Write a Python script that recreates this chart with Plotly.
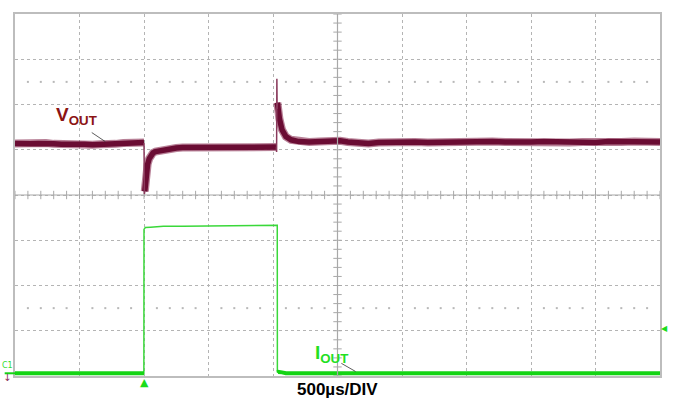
import plotly.graph_objects as go

# Time base: 500 us/div, 10 divisions. Vertical values in screen divisions (center = 0).
time_per_div = 500
n_hdiv = 10
n_vdiv = 8

# V_OUT thick trace segments (us, div)
vout_pre_t = [0, 60, 120, 180, 240, 300, 360, 420, 480, 540, 600, 660, 720, 780,
              840, 900, 960, 1000]
vout_pre_v = [1.14, 1.15, 1.13, 1.14, 1.15, 1.13, 1.12, 1.13, 1.14, 1.12, 1.11, 1.12,
              1.11, 1.13, 1.15, 1.17, 1.17, 1.16]

vout_mid_t = [1006, 1010, 1018, 1028, 1040, 1055, 1070, 1090, 1120, 1160, 1200, 1250,
              1300, 1380, 1460, 1540, 1620, 1700, 1780, 1860, 1940, 2000, 2026]
vout_mid_v = [0.08, 0.25, 0.50, 0.68, 0.80, 0.88, 0.93, 0.96, 0.98, 1.01, 1.03, 1.04,
              1.05, 1.05, 1.06, 1.07, 1.06, 1.06, 1.07, 1.06, 1.07, 1.06, 1.06]

vout_post_t = [2034, 2040, 2050, 2070, 2100, 2140, 2200, 2280, 2360, 2420, 2480, 2520,
               2580, 2660, 2740, 2820, 2900, 3000, 3100, 3200, 3300, 3400, 3500, 3600,
               3700, 3800, 3900, 4000, 4100, 4200, 4300, 4400, 4500, 4600, 4700, 4800,
               4900, 5000]
vout_post_v = [2.04, 1.85, 1.68, 1.44, 1.29, 1.22, 1.18, 1.17, 1.18, 1.19, 1.22, 1.20,
               1.17, 1.15, 1.14, 1.16, 1.17, 1.18, 1.17, 1.16, 1.17, 1.18, 1.16, 1.17,
               1.18, 1.17, 1.16, 1.17, 1.18, 1.17, 1.16, 1.17, 1.16, 1.18, 1.17, 1.18,
               1.17, 1.17]

# V_OUT fast edges (thin)
vout_dip_t = [1000, 1003, 1006]
vout_dip_v = [1.15, 0.02, 0.08]
vout_spike_t = [2026, 2028, 2030, 2032, 2034]
vout_spike_v = [1.06, 0.95, 2.57, 1.90, 2.04]

# I_OUT load step (us, div)
iout_t = [0, 300, 600, 900, 999, 1000, 1003, 1010, 1050, 1150, 1300, 1500, 1700, 1900,
          2033, 2034, 2040, 2070, 2100, 2500, 3000, 3500, 4000, 4500, 5000]
iout_v = [-3.94, -3.94, -3.94, -3.94, -3.94, -0.76, -0.75, -0.72, -0.71, -0.69, -0.69,
          -0.68, -0.675, -0.67, -0.67, -3.92, -3.91, -3.92, -3.94, -3.94, -3.94, -3.94,
          -3.94, -3.94, -3.94]
iout_low1_t = [0, 300, 600, 900, 1000]
iout_low1_v = [-3.94, -3.94, -3.94, -3.94, -3.94]
iout_low2_t = [2034, 2040, 2070, 2100, 2500, 3000, 3500, 4000, 4500, 5000]
iout_low2_v = [-3.92, -3.91, -3.92, -3.94, -3.94, -3.94, -3.94, -3.94, -3.94, -3.94]

trigger_time = 1000
trigger_level = -2.95

VOUT_COL = "#6a0c33"
VOUT_FRINGE = "rgba(125,25,65,0.55)"
IOUT_COL = "#14d414"
GRID_COL = "#b4b4b4"

t_max = time_per_div * n_hdiv
t_center = t_max / 2
minor_t = [k * time_per_div / 5 for k in range(n_hdiv * 5 + 1)]
minor_v = [-n_vdiv / 2 + k * 0.2 for k in range(n_vdiv * 5 + 1)]

fig = go.Figure()

# center-line minor ticks
fig.add_trace(go.Scatter(x=minor_t, y=[0] * len(minor_t), mode="markers",
                         marker=dict(symbol="line-ns", size=6,
                                     line=dict(color="#a8a8a8", width=1)),
                         hoverinfo="skip"))
fig.add_trace(go.Scatter(x=[t_center] * len(minor_v), y=minor_v, mode="markers",
                         marker=dict(symbol="line-ew", size=6,
                                     line=dict(color="#a8a8a8", width=1)),
                         hoverinfo="skip"))
# dotted rows at +/-2.5 div
dot_t = [t for t in minor_t if t % time_per_div != 0]
for row in (2.5, -2.5):
    fig.add_trace(go.Scatter(x=dot_t, y=[row] * len(dot_t), mode="markers",
                             marker=dict(symbol="square", size=2, color="#b8b8b8"),
                             hoverinfo="skip"))

# V_OUT
for tt, vv in ((vout_pre_t, vout_pre_v), (vout_mid_t, vout_mid_v), (vout_post_t, vout_post_v)):
    fig.add_trace(go.Scatter(x=tt, y=vv, mode="lines",
                             line=dict(color=VOUT_FRINGE, width=8), hoverinfo="skip"))
    fig.add_trace(go.Scatter(x=tt, y=vv, mode="lines",
                             line=dict(color=VOUT_COL, width=5.5), hoverinfo="skip"))
for tt, vv in ((vout_dip_t, vout_dip_v), (vout_spike_t, vout_spike_v)):
    fig.add_trace(go.Scatter(x=tt, y=vv, mode="lines",
                             line=dict(color="#8a3a5c", width=1.5), hoverinfo="skip"))

# I_OUT
fig.add_trace(go.Scatter(x=iout_t, y=iout_v, mode="lines",
                         line=dict(color="#3ad83a", width=1.5), hoverinfo="skip"))
for tt, vv in ((iout_low1_t, iout_low1_v), (iout_low2_t, iout_low2_v)):
    fig.add_trace(go.Scatter(x=tt, y=vv, mode="lines",
                             line=dict(color=IOUT_COL, width=4), hoverinfo="skip"))

shapes = [
    dict(type="line", x0=t_center, x1=t_center, y0=-4, y1=4,
         line=dict(color="#a8a8a8", width=1.2)),
    dict(type="line", x0=0, x1=t_max, y0=0, y1=0,
         line=dict(color="#a8a8a8", width=1.2)),
    # label leaders
    dict(type="line", x0=595, x1=700, y0=1.38, y1=1.18,
         line=dict(color="#333333", width=0.8)),
    dict(type="line", x0=2530, x1=2640, y0=-3.72, y1=-3.90,
         line=dict(color="#333333", width=0.8)),
    # channel ground marker
    dict(type="line", xref="paper", yref="y", x0=-0.016, x1=0, y0=-3.94, y1=-3.94,
         line=dict(color=IOUT_COL, width=2)),
]

annotations = [
    dict(x=300, y=1.75, xref="x", yref="y", text="<b>V<sub>OUT</sub></b>", showarrow=False,
         xanchor="left", yanchor="middle",
         font=dict(family="Liberation Sans, Arial", size=19, color="#8b1414")),
    dict(x=2310, y=-3.51, xref="x", yref="y", text="<b>I<sub>OUT</sub></b>", showarrow=False,
         xanchor="left", yanchor="middle",
         font=dict(family="Liberation Sans, Arial", size=19, color="#22e022")),
    dict(x=0.5, y=-0.038, xref="paper", yref="paper", text="<b>500µs/DIV</b>",
         showarrow=False, xanchor="center", yanchor="middle",
         font=dict(family="Liberation Sans, Arial", size=17, color="#000000")),
    dict(x=-0.012, y=-3.77, xref="paper", yref="y", text="C1", showarrow=False,
         xanchor="center", yanchor="middle",
         font=dict(family="DejaVu Sans", size=8, color="#33dd33")),
    dict(x=-0.012, y=-0.004, xref="paper", yref="paper", text="↓", showarrow=False,
         xanchor="center", yanchor="middle",
         font=dict(family="DejaVu Sans", size=10, color="#8b2a55")),
    # trigger position and level markers
    dict(x=trigger_time / t_max, y=-0.019, xref="paper", yref="paper", text="▲",
         showarrow=False, xanchor="center", yanchor="middle",
         font=dict(family="DejaVu Sans", size=11, color="#1adc1a")),
    dict(x=1.0, y=trigger_level, xref="paper", yref="y", text="◀", showarrow=False,
         xanchor="left", yanchor="middle", xshift=-1,
         font=dict(family="DejaVu Sans", size=8, color="#1adc1a")),
]

fig.update_layout(
    width=674, height=399,
    margin=dict(l=15, r=12, t=12, b=23),
    paper_bgcolor="white", plot_bgcolor="white",
    showlegend=False,
    shapes=shapes, annotations=annotations,
)
fig.update_xaxes(range=[0, t_max], dtick=time_per_div, tick0=0, showgrid=True,
                 gridcolor=GRID_COL, griddash="dot", gridwidth=1, zeroline=False,
                 showticklabels=False, ticks="", showline=True, mirror=True,
                 linecolor="#bdbdbd", linewidth=2)
fig.update_yaxes(range=[-n_vdiv / 2, n_vdiv / 2], dtick=1, tick0=0, showgrid=True,
                 gridcolor=GRID_COL, griddash="dot", gridwidth=1, zeroline=False,
                 showticklabels=False, ticks="", showline=True, mirror=True,
                 linecolor="#bdbdbd", linewidth=2)

fig.write_html("out.html")
